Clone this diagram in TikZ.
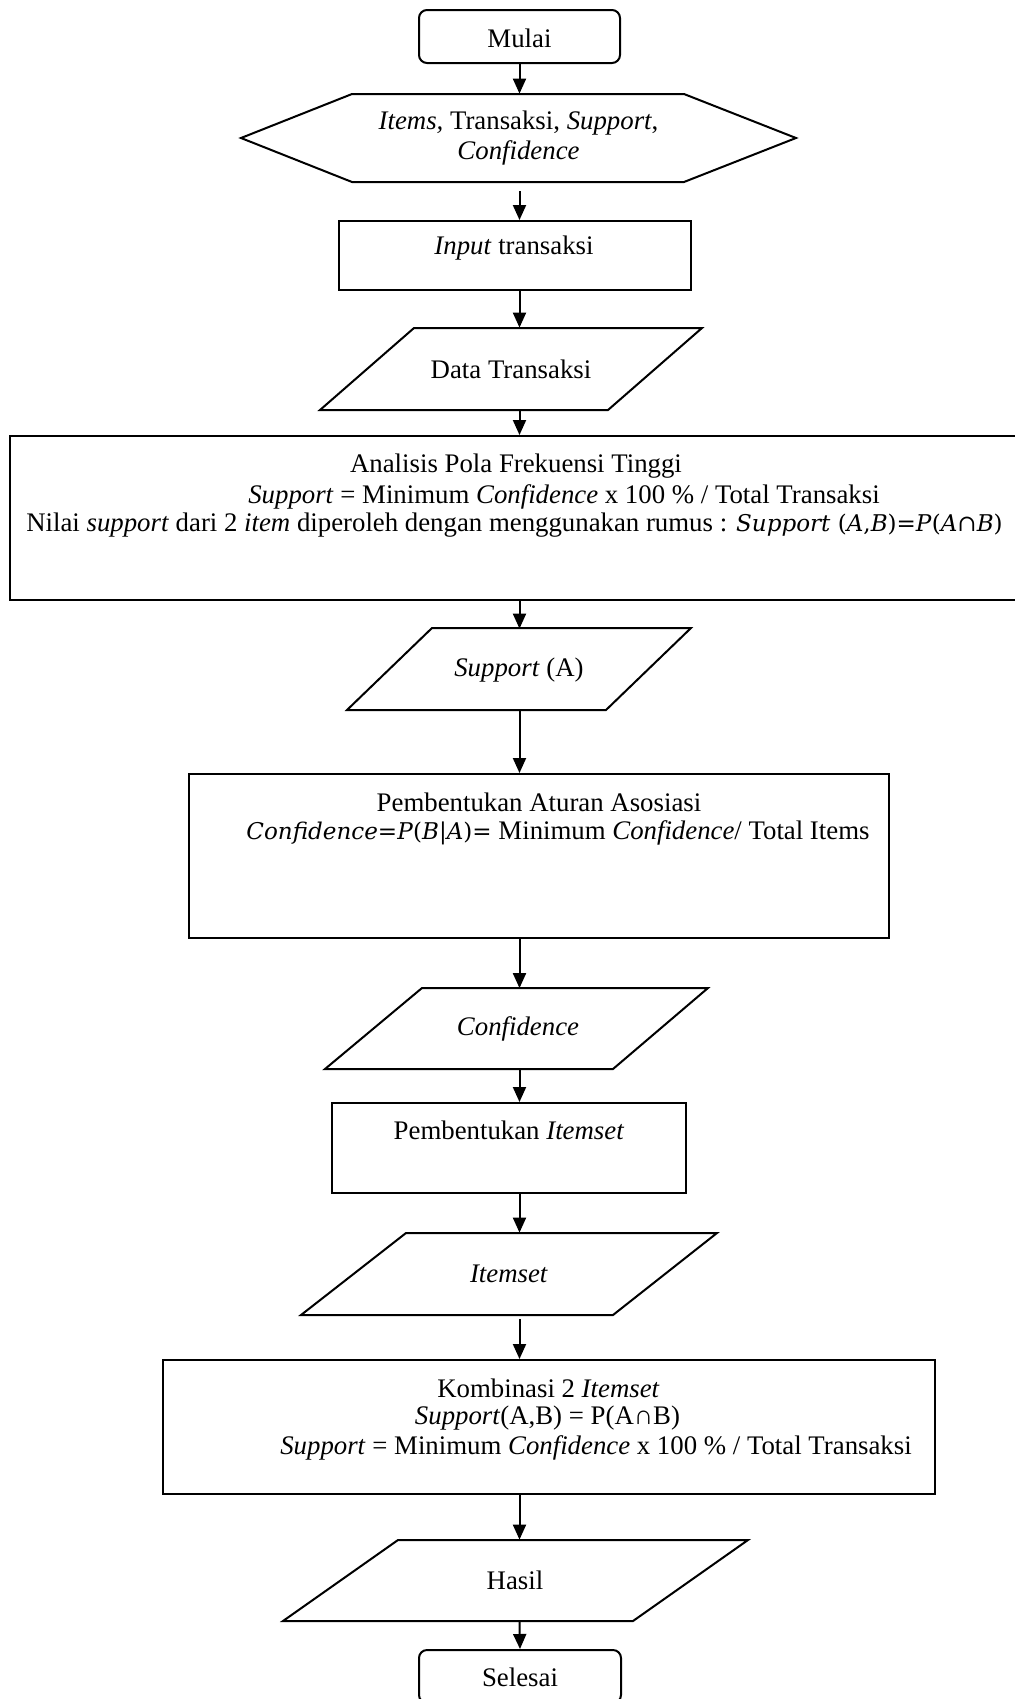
\documentclass[tikz,border=0pt]{standalone}
\usepackage{fontspec}
\setmainfont{Liberation Serif}
\newfontfamily\cmfont{DejaVu Serif}[Scale=0.86]
\usetikzlibrary{arrows.meta}
\tikzset{
  shp/.style={draw=black, line width=1pt},
  arr/.style={-{Triangle[length=7.5pt,width=6.5pt]}, line width=1pt, draw=black},
  term/.style={shp, rounded corners=4pt, inner sep=0pt},
  procbox/.style={shp, inner sep=0pt},
  bnd/.style={inner sep=0pt, minimum width=0pt},
  txt/.style={inner sep=0pt}
}
\begin{document}
\begin{tikzpicture}[x=0.5pt,y=-0.5pt, every node/.style={font=\fontsize{13.4}{15}\selectfont}]
\useasboundingbox (0,0) rectangle (1014,1699);
% Mulai
\node[term, minimum width=100.5pt, minimum height=26.5pt] (mulai) at (519.5,36.5) {\raisebox{-1pt}[\height][\depth]{Mulai}};
% hexagon
\draw[shp] (241,138) -- (352,94) -- (684,94) -- (796,138) -- (684,182) -- (352,182) -- cycle;
\node[bnd, minimum height=44pt, align=center] (hex) at (518.5,138) {\textit{Items,} Transaksi, \textit{Support},\\\textit{Confidence}};
% input transaksi
\node[procbox, minimum width=176pt, minimum height=34.5pt] (inp) at (515,255.5) {};
\node[txt] (inpt) at (514,248) {\textit{Input} transaksi};
% data transaksi
\draw[shp] (414,328) -- (702,328) -- (608,410) -- (320,410) -- cycle;
\node[bnd, minimum height=41pt] (data) at (511,369) {Data Transaksi};
% analisis
\node[procbox, minimum width=507pt, minimum height=82pt] (ana) at (517,518) {};
\node[txt] (an1) at (516,466) {Analisis Pola Frekuensi Tinggi};
\node[txt] (an2) at (564,497) {\textit{Support} = Minimum \textit{Confidence} x 100 \% / Total Transaksi};
\node[txt] (an3) at (514.5,525) {Nilai \textit{support} dari 2 \textit{item} diperoleh dengan menggunakan rumus : {\cmfont\textit{Support} (\textit{A},\textit{B})=\textit{P}(\textit{A}∩\textit{B})}};
% support (A)
\draw[shp] (432,628) -- (691,628) -- (606,710) -- (347,710) -- cycle;
\node[bnd, minimum height=41pt] (supa) at (519,670) {\textit{Support} (A)};
% aturan asosiasi
\node[procbox, minimum width=350pt, minimum height=82pt] (atur) at (539,856) {};
\node[txt] (at1) at (539,802) {Pembentukan Aturan Asosiasi};
\node[txt] (at2) at (558,833) {{\cmfont\textit{Confidence}=\textit{P}(\textit{B}|\textit{A})=} Minimum \textit{Confidence}/ Total Items};
% confidence
\draw[shp] (422,988) -- (708,988) -- (613,1069) -- (325,1069) -- cycle;
\node[bnd, minimum height=40.5pt] (conf) at (518,1029) {\textit{Confidence}};
% pembentukan itemset
\node[procbox, minimum width=177pt, minimum height=45pt] (pit) at (509,1148) {};
\node[txt] (pitt) at (509,1130) {Pembentukan \textit{Itemset}};
% itemset
\draw[shp] (406,1233) -- (717,1233) -- (613,1315) -- (301,1315) -- cycle;
\node[bnd, minimum height=41pt] (its) at (509,1274) {\textit{Itemset}};
% kombinasi
\node[procbox, minimum width=386pt, minimum height=67pt] (komb) at (549,1427) {};
\node[txt] (km1) at (548.5,1388) {Kombinasi 2 \textit{Itemset}};
\node[txt] (km2) at (547.5,1418) {\textit{Support}(A,B) = P(A∩B)};
\node[txt] (km3) at (596,1448) {\textit{Support} = Minimum \textit{Confidence} x 100 \% / Total Transaksi};
% hasil
\draw[shp] (398,1540) -- (748,1540) -- (633,1621) -- (283,1621) -- cycle;
\node[bnd, minimum height=40.5pt] (hasil) at (515,1580.5) {Hasil};
% selesai
\node[term, minimum width=101pt, minimum height=26.5pt] (sel) at (520,1676.5) {\raisebox{-0.5pt}[\height][\depth]{Selesai}};
% connectors
\draw[arr] (mulai.south) -- (hex.north -| mulai.south);
\draw[arr, shorten <=4.5pt] (hex.south -| mulai.south) -- (inp.north -| mulai.south);
\draw[arr] (inp.south -| mulai.south) -- (data.north -| mulai.south);
\draw[arr] (data.south -| mulai.south) -- (ana.north -| mulai.south);
\draw[arr] (ana.south -| mulai.south) -- (supa.north -| mulai.south);
\draw[arr] (supa.south -| mulai.south) -- (atur.north -| mulai.south);
\draw[arr] (atur.south -| mulai.south) -- (conf.north -| mulai.south);
\draw[arr] (conf.south -| mulai.south) -- (pit.north -| mulai.south);
\draw[arr] (pit.south -| mulai.south) -- (its.north -| mulai.south);
\draw[arr, shorten <=2pt] (its.south -| mulai.south) -- (komb.north -| mulai.south);
\draw[arr] (komb.south -| mulai.south) -- (hasil.north -| mulai.south);
\draw[arr] (hasil.south -| mulai.south) -- (sel.north);
\end{tikzpicture}
\end{document}
